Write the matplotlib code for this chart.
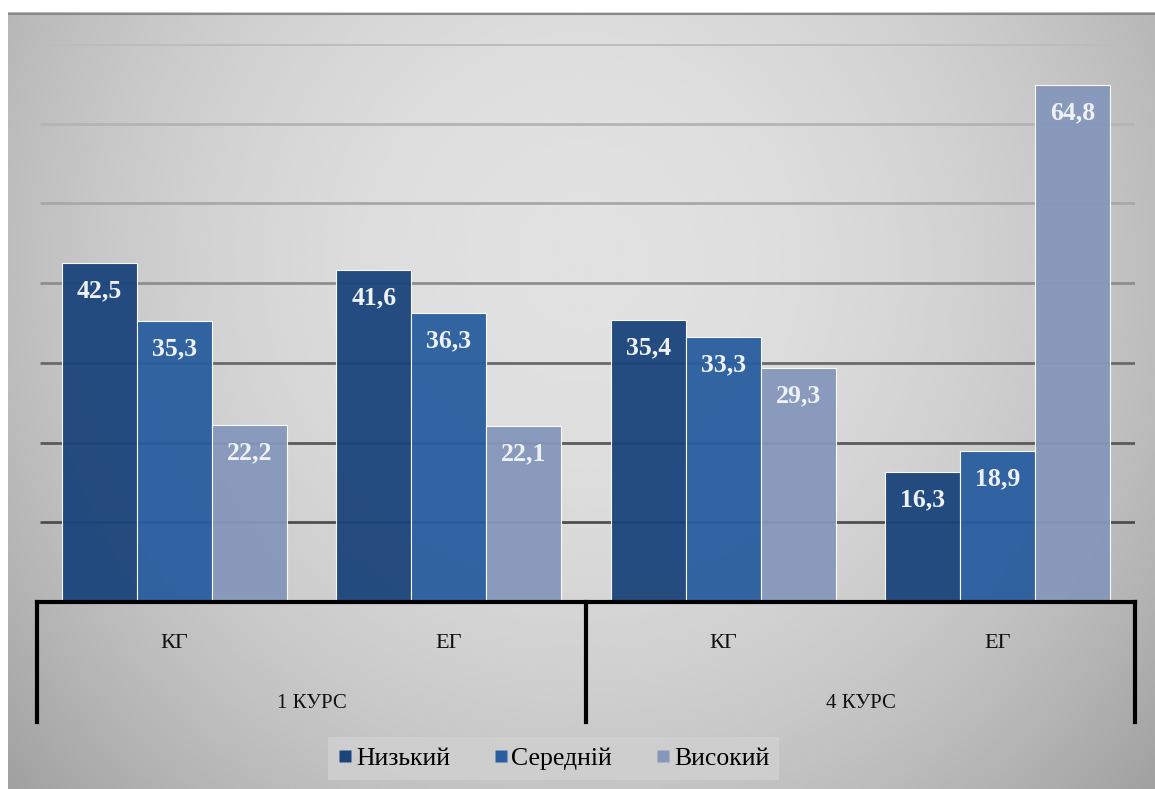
import numpy as np
import matplotlib
matplotlib.use("Agg")
import matplotlib.pyplot as plt
from matplotlib.lines import Line2D
from matplotlib import transforms

# --- data -------------------------------------------------------------
groups = ["КГ", "ЕГ", "КГ", "ЕГ"]
courses = ["1 КУРС", "4 КУРС"]
series_names = ["Низький", "Середній", "Високий"]
low = [42.5, 41.6, 35.4, 16.3]
mid = [35.3, 36.3, 33.3, 18.9]
high = [22.2, 22.1, 29.3, 64.8]
y_ticks = [10, 20, 30, 40, 50, 60, 70]

colors = ["#1b447b", "#295d9f", "#8697bb"]
serif = ["Liberation Serif", "DejaVu Serif"]

W, H = 1155, 789
fig = plt.figure(figsize=(W / 100, H / 100), dpi=100)
fig.patch.set_facecolor("white")

# --- shaded chart background -----------------------------------------
bg_left, bg_top = 8, 12
bg = fig.add_axes([bg_left / W, 0, 1 - bg_left / W, (H - bg_top) / H])
bg.set_axis_off()
ny, nx = 400, 600
yy, xx = np.mgrid[0:1:ny * 1j, 0:1:nx * 1j]
r2 = ((xx - 0.5) / 0.62) ** 2 + ((yy - 0.32) / 0.95) ** 2
shade = np.clip(0.885 - 0.22 * r2, 0.6, 0.9)
bg.imshow(shade, cmap="gray", vmin=0, vmax=1, aspect="auto",
          extent=[0, 1, 1, 0], interpolation="bicubic")
bg.set_xlim(0, 1)
bg.set_ylim(1, 0)
bg.plot([0, 1], [0.002, 0.002], color="#8a8a8a", lw=1.5)

# --- plot area ----------------------------------------------------------
x0, x1 = 37, 1135
yb, yt = 602, 44
ax = fig.add_axes([x0 / W, (H - yb) / H, (x1 - x0) / W, (yb - yt) / H])
ax.patch.set_alpha(0)
ax.set_xlim(-0.5, 3.5)
ax.set_ylim(0, 70)
for s in ax.spines.values():
    s.set_visible(False)
ax.set_xticks([])
ax.set_yticks([])

grid_cols = ["#4e4e4e", "#5a5a5a", "#6a6a6a", "#8e8e8e", "#a8a8a8", "#b4b4b4", "#bcbcbc"]
for v, c in zip(y_ticks, grid_cols):
    ax.plot([-0.49, 3.5], [v, v], color=c, lw=2, zorder=1, solid_capstyle="butt")

x = np.arange(len(groups))
bw = 0.273
for i, (vals, col) in enumerate(zip([low, mid, high], colors)):
    pos = x + (i - 1) * bw
    ax.bar(pos, vals, width=bw, color=col, alpha=0.95, zorder=2,
           edgecolor=(1, 1, 1, 0.45), linewidth=0.8, label=series_names[i])
    for px, v in zip(pos, vals):
        ax.annotate(f"{v:.1f}".replace(".", ","), (px, v), xytext=(0, -20),
                    textcoords="offset points", ha="center", va="center",
                    fontsize=18.5, fontweight="bold", color="#eef2f8",
                    family=serif, zorder=3)

# --- two-level category axis -------------------------------------------
tr = transforms.blended_transform_factory(ax.transData, fig.transFigure)
y_axis = (H - yb) / H
y_end = (H - 722) / H
ax.add_line(Line2D([-0.5, 3.5], [y_axis, y_axis], transform=tr, color="black",
                   lw=3, clip_on=False, zorder=4, solid_capstyle="projecting"))
for xv in [-0.5, 1.5, 3.5]:
    ax.add_line(Line2D([xv, xv], [y_axis, y_end], transform=tr, color="black",
                       lw=3, clip_on=False, zorder=4))
for xi, g in zip(x, groups):
    ax.text(xi, (H - 643) / H, g, transform=tr, ha="center", va="center",
            fontsize=16, family=serif, color="#111111")
for ci, c in enumerate(courses):
    ax.text(0.5 + 2 * ci, (H - 703) / H, c, transform=tr, ha="center",
            va="center", fontsize=15, family=serif, color="#111111")

# --- legend -------------------------------------------------------------
handles = [Line2D([], [], marker="s", linestyle="none", markersize=9,
                  markerfacecolor=c, markeredgecolor="none") for c in colors]
leg = fig.legend(handles, series_names, loc="center",
                 bbox_to_anchor=(553.5 / W, (H - 758.5) / H), ncol=3,
                 frameon=True, fancybox=False, handlelength=0.55,
                 handletextpad=0.15, columnspacing=1.7, borderpad=0.4,
                 borderaxespad=0, prop={"family": serif, "size": 18.5})
leg.get_frame().set_facecolor("#d0d0d0")
leg.get_frame().set_edgecolor("none")
leg.get_frame().set_alpha(0.85)

fig.savefig("out.png", dpi=100)
